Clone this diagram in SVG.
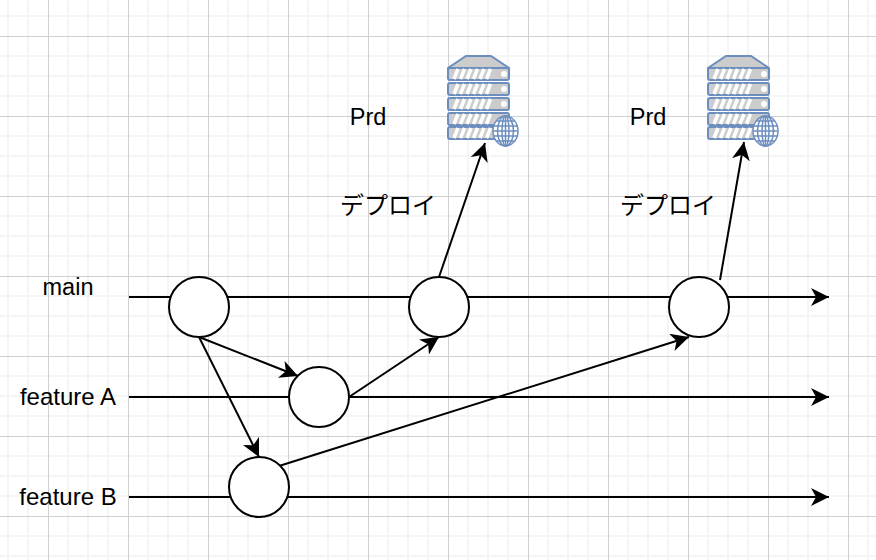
<svg xmlns="http://www.w3.org/2000/svg" width="876" height="560" viewBox="0 0 876 560">
<defs>
<style>
.minor{stroke:#f5f5f5;stroke-width:2;fill:none}
.major{stroke:#d0d0d0;stroke-width:1;fill:none}
.c{stroke:#000;stroke-width:2;fill:none}
.n{fill:#fff;stroke:#000;stroke-width:2}
.t{font-family:"Liberation Sans","Noto Sans CJK JP",sans-serif;font-size:23.500px;fill:#000;text-anchor:middle}
.j{font-size:24px}
.sf{fill:#ccc;stroke:#6c8ebf;stroke-width:2}
.st{stroke:#fff;stroke-width:3.500;fill:none}
.gl{fill:none;stroke:#6c8ebf;stroke-width:1.500}
</style>
<marker id="a" viewBox="0 0 18 18" refX="18" refY="9" markerWidth="18" markerHeight="18" markerUnits="userSpaceOnUse" orient="auto"><path d="M0 0 L18 9 L0 18 L5 9 Z" fill="#000"/></marker>
<g id="srv">
<path class="sf" d="M19 1 H44 L62 13 V14 H1 V13 Z"/>
<rect class="sf" x="1" y="13" width="61" height="12" rx="2"/>
<rect class="sf" x="1" y="28" width="61" height="12" rx="2"/>
<rect class="sf" x="1" y="43" width="61" height="12" rx="2"/>
<rect class="sf" x="1" y="58" width="61" height="12" rx="2"/>
<rect class="sf" x="1" y="72" width="61" height="12" rx="2"/>
<path class="st" d="M7 24 l4 -10 M13.500 24 l4 -10 M20 24 l4 -10 M26.500 24 l4 -10 M33 24 l4 -10 M39.500 24 l4 -10 M7 39 l4 -10 M13.500 39 l4 -10 M20 39 l4 -10 M26.500 39 l4 -10 M33 39 l4 -10 M39.500 39 l4 -10 M7 54 l4 -10 M13.500 54 l4 -10 M20 54 l4 -10 M26.500 54 l4 -10 M33 54 l4 -10 M39.500 54 l4 -10 M7 69 l4 -10 M13.500 69 l4 -10 M20 69 l4 -10 M26.500 69 l4 -10 M33 69 l4 -10 M39.500 69 l4 -10 M7 83 l4 -10 M13.500 83 l4 -10 M20 83 l4 -10 M26.500 83 l4 -10 M33 83 l4 -10 M39.500 83 l4 -10"/>
<circle cx="57" cy="19" r="3" fill="#fff"/><circle cx="57" cy="34" r="3" fill="#fff"/><circle cx="57" cy="49" r="3" fill="#fff"/>
<ellipse cx="58.500" cy="76" rx="12.500" ry="15" fill="#fff" stroke="#6c8ebf" stroke-width="1.500"/>
<ellipse class="gl" cx="58.500" cy="76" rx="8" ry="15"/><ellipse class="gl" cx="58.500" cy="76" rx="3.500" ry="15"/>
<path class="gl" d="M58.500 61 V91 M46.500 71 H70.500 M46.500 76 H70.500 M46.500 81 H70.500 M49.500 66 H67.500 M49.500 86 H67.500"/>
</g>
</defs>
<rect width="876" height="560" fill="#fff"/>
<g id="grid">
<path class="minor" d="M8 0V560M28 0V560M68 0V560M88 0V560M108 0V560M148 0V560M168 0V560M188 0V560M228 0V560M248 0V560M268 0V560M308 0V560M328 0V560M348 0V560M388 0V560M408 0V560M428 0V560M468 0V560M488 0V560M508 0V560M548 0V560M568 0V560M588 0V560M628 0V560M648 0V560M668 0V560M708 0V560M728 0V560M748 0V560M788 0V560M808 0V560M828 0V560M868 0V560"/>
<path class="minor" d="M0 16H876M0 56H876M0 76H876M0 96H876M0 136H876M0 156H876M0 176H876M0 216H876M0 236H876M0 256H876M0 296H876M0 316H876M0 336H876M0 376H876M0 396H876M0 416H876M0 456H876M0 476H876M0 496H876M0 536H876M0 556H876"/>
<path class="major" d="M48.500 0V560M128.500 0V560M208.500 0V560M288.500 0V560M368.500 0V560M448.500 0V560M528.500 0V560M608.500 0V560M688.500 0V560M768.500 0V560M848.500 0V560"/>
<path class="major" d="M0 36.500H876M0 116.500H876M0 196.500H876M0 276.500H876M0 356.500H876M0 436.500H876M0 516.500H876"/>
</g>
<g id="connectors">
<path class="c" marker-end="url(#a)" d="M129 297H829"/>
<path class="c" marker-end="url(#a)" d="M129 397H829"/>
<path class="c" marker-end="url(#a)" d="M129 497H829"/>
<path class="c" marker-end="url(#a)" d="M199 337L298 376"/>
<path class="c" marker-end="url(#a)" d="M199 337L259 457"/>
<path class="c" marker-end="url(#a)" d="M349 397L439 337"/>
<path class="c" marker-end="url(#a)" d="M279 466L689 337"/>
<path class="c" marker-end="url(#a)" d="M439 277L485 143"/>
<path class="c" marker-end="url(#a)" d="M720 280L744 142"/>
</g>
<g id="node-m1"><circle class="n" cx="199" cy="307" r="30"/></g>
<g id="node-m2"><circle class="n" cx="439" cy="307" r="30"/></g>
<g id="node-m3"><circle class="n" cx="699" cy="307" r="30"/></g>
<g id="node-a"><circle class="n" cx="319" cy="397" r="30"/></g>
<g id="node-b"><circle class="n" cx="259" cy="487" r="30"/></g>
<g id="server-1"><use href="#srv" x="447" y="55"/></g>
<g id="server-2"><use href="#srv" x="707" y="55"/></g>
<g id="labels">
<text class="t" x="68" y="295">main</text>
<text class="t j" x="68" y="405">feature A</text>
<text class="t j" x="68" y="505">feature B</text>
<text class="t" x="368" y="125">Prd</text>
<text class="t" x="648" y="125">Prd</text>
<text class="t j" x="388" y="214">デプロイ</text>
<text class="t j" x="668" y="214">デプロイ</text>
</g>
</svg>
